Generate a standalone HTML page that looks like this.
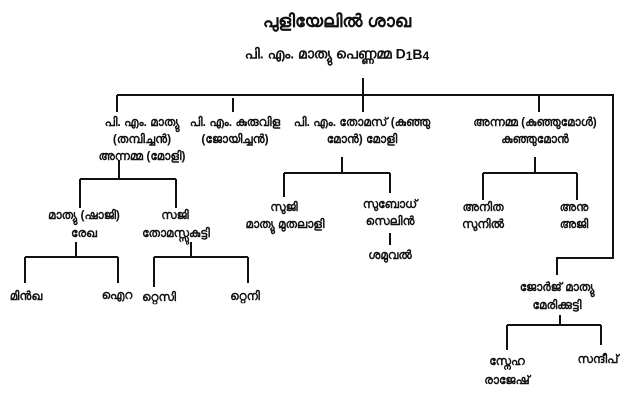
<!DOCTYPE html>
<html><head><meta charset="utf-8"><style>
html,body{margin:0;padding:0;background:#fff;}
svg{display:block;}
text{font-family:"Liberation Sans","DejaVu Sans",sans-serif;font-weight:bold;fill:#111;text-anchor:middle;dominant-baseline:middle;}
.s{font-size:12px;}
</style></head><body>
<svg width="624" height="420" viewBox="0 0 624 420" xmlns="http://www.w3.org/2000/svg">
<g stroke="#111" stroke-width="2" fill="none">
<path d="M363 78V95M117 95H613V258H557V275M117 95V112M233 98V112M363 95V112M539 95V112"/>
<path d="M119 160V179M80 179H176M80 179V208M176 179V208"/>
<path d="M76 242V257M25 257H118M25 257V283M118 257V283"/>
<path d="M191 242V257M154 257H248M154 257V287M248 257V283"/>
<path d="M342 157V173M284 173H390M284 173V197M390 173V193M390 233V245"/>
<path d="M535 157V173M483 173H577M483 173V200M577 173V200"/>
<path d="M560 315V325M507 325H601M507 325V350M601 325V345"/>
</g>
<text x="337" y="22" style="font-size:18px">പുളിയേലിൽ ശാഖ</text>
<text x="337" y="55" style="font-size:14px">പി. എം. മാത്യു പെണ്ണമ്മ D<tspan font-size="12" dy="2">1</tspan><tspan dy="-2">B</tspan><tspan font-size="12" dy="2">4</tspan></text>
<g>
<text class="s" x="142" y="123">പി. എം. മാത്യു</text>
<text class="s" x="142" y="140">(തമ്പിച്ചൻ)</text>
<text class="s" x="142" y="157">അന്നമ്മ (മോളി)</text>
<text class="s" x="235" y="123">പി. എം. കുരുവിള</text>
<text class="s" x="235" y="140">(ജോയിച്ചൻ)</text>
<text class="s" x="362" y="123">പി. എം. തോമസ് (കുഞ്ഞു</text>
<text class="s" x="362" y="140">മോൻ) മോളി</text>
<text class="s" x="535" y="123">അന്നമ്മ (കുഞ്ഞുമോൾ)</text>
<text class="s" x="535" y="140">കുഞ്ഞുമോൻ</text>
<text class="s" x="84" y="216">മാത്യു (ഷാജി)</text>
<text class="s" x="84" y="234">രേഖ</text>
<text class="s" x="175" y="216">സജി</text>
<text class="s" x="176" y="234">തോമസ്സുകുട്ടി</text>
<text class="s" x="26" y="297">മിൻഖ</text>
<text class="s" x="117" y="296">ഐറ</text>
<text class="s" x="159" y="298">റ്റെസി</text>
<text class="s" x="245" y="297">റ്റെനി</text>
<text class="s" x="284" y="208">സുജി</text>
<text class="s" x="285" y="225">മാത്യു മുതലാളി</text>
<text class="s" x="390" y="205">സുബോധ്</text>
<text class="s" x="390" y="222">സെലിൻ</text>
<text class="s" x="390" y="256">ശമുവൽ</text>
<text class="s" x="483" y="208">അനിത</text>
<text class="s" x="483" y="225">സുനിൽ</text>
<text class="s" x="574" y="208">അനു</text>
<text class="s" x="574" y="225">അജി</text>
<text class="s" x="557" y="288">ജോർജ് മാത്യു</text>
<text class="s" x="557" y="306">മേരിക്കുട്ടി</text>
<text class="s" x="507" y="362">സ്നേഹ</text>
<text class="s" x="507" y="381">രാജേഷ്</text>
<text class="s" x="598" y="360">സന്ദീപ്</text>
</g>
</svg>
</body></html>
